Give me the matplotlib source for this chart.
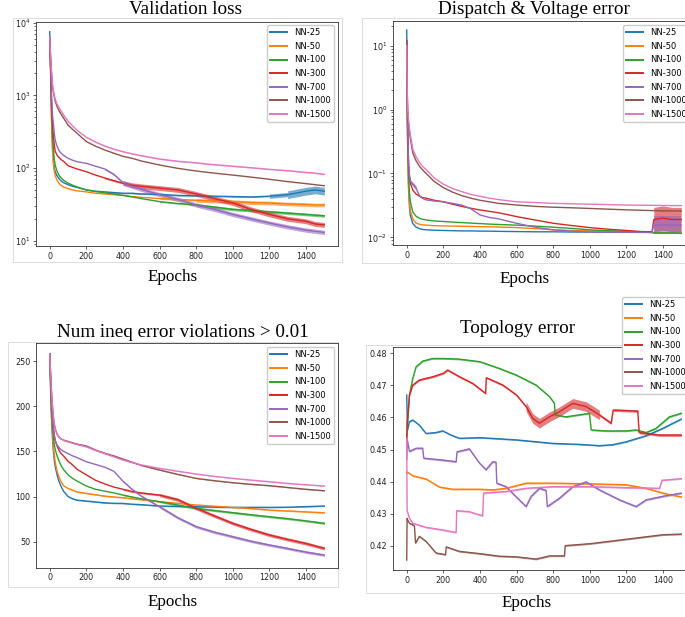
import numpy as np
import matplotlib
matplotlib.use('Agg')
import matplotlib.pyplot as plt
from matplotlib.patches import Rectangle

W, H = 685, 617

labels = ['NN-25', 'NN-50', 'NN-100', 'NN-300', 'NN-700', 'NN-1000', 'NN-1500']
colors = ['tab:blue', 'tab:orange', 'tab:green', 'tab:red', 'tab:purple', 'tab:brown', 'tab:pink']

# ---- validation loss (log) ----
loss_epochs = [0, 5, 10, 15, 20, 25, 30, 40, 50, 60, 75, 100, 125, 150, 200, 250, 300, 350,
               400, 450, 500, 600, 700, 800, 900, 1000, 1100, 1200, 1300, 1400, 1450, 1500]
loss = {
    'NN-25':   [7500, 2500, 500, 200, 130, 100, 88, 78, 72, 67, 63, 59, 56, 54, 50, 48, 47, 46,
                45, 45, 44, 43.5, 42, 41.5, 41, 40.5, 40, 41, 43, 48, 50, 48],
    'NN-50':   [6000, 2200, 450, 180, 115, 90, 78, 68, 62, 58, 55, 52, 50, 48.5, 47, 45, 44, 43,
                42, 40.5, 39.5, 38, 37, 36, 35, 34.5, 33.5, 33, 32, 31.5, 31, 31],
    'NN-100':  [6000, 2500, 700, 300, 180, 130, 110, 90, 80, 74, 68, 62, 58, 55, 50, 47.5, 45.5, 44,
                42, 40, 38, 34.5, 32.5, 31, 29, 27, 26, 25, 24, 23, 22.5, 22],
    'NN-300':  [6000, 2000, 700, 400, 280, 210, 170, 150, 140, 132, 124, 108, 102, 97, 89, 80, 73, 67,
                62, 58, 56, 53, 50, 44, 38, 33, 27, 23, 20, 18.5, 17, 16.5],
    'NN-700':  [6000, 2500, 1000, 550, 400, 300, 240, 200, 175, 162, 150, 136, 128, 122, 116, 106, 97, 82,
                63, 56, 51, 43, 37, 31, 27, 23, 20, 17.5, 15.5, 14, 13.5, 13],
    'NN-1000': [6300, 3200, 2000, 1350, 1100, 950, 830, 700, 620, 560, 490, 390, 340, 300, 231, 200, 177, 160,
                145, 136, 125, 110, 99, 91, 85, 80, 75, 70, 65, 61, 59, 57],
    'NN-1500': [6300, 3400, 2100, 1400, 1150, 1000, 880, 760, 680, 620, 540, 440, 380, 330, 265, 228, 201, 182,
                168, 157, 148, 133, 124, 118, 111, 106, 101, 96, 92, 87, 85, 82],
}
# noise band: (from epoch, to epoch, factor)
loss_noise = {
    'NN-25': [(300, 1200, 1.02), (1200, 1300, 1.07), (1300, 1500, 1.13)],
    'NN-50': [(600, 800, 1.03), (800, 1500, 1.06)],
    'NN-100': [(600, 800, 1.02), (800, 1500, 1.045)],
    'NN-300': [(300, 400, 1.03), (400, 1500, 1.08)],
    'NN-700': [(300, 400, 1.03), (400, 1500, 1.07)],
    'NN-1000': [],
    'NN-1500': [(200, 1500, 1.015)],
}

# ---- dispatch & voltage error (log) ----
dv_epochs = [0, 2, 5, 10, 15, 20, 33, 50, 69, 85, 106, 150, 200, 250, 300, 350, 400, 450, 500,
             600, 700, 800, 900, 1000, 1100, 1200, 1300, 1340, 1350, 1400, 1450, 1500]
dv = {
    'NN-25':   [17.6, 3, 0.3, 0.06, 0.03, 0.022, 0.0165, 0.0145, 0.0137, 0.0133, 0.0131, 0.0129, 0.0128,
                0.0127, 0.0126, 0.0126, 0.0125, 0.0125, 0.0124, 0.0123, 0.0122, 0.0122, 0.0121, 0.0121,
                0.012, 0.012, 0.0123, 0.0122, 0.0118, 0.0117, 0.0116, 0.0115],
    'NN-50':   [12, 2, 0.25, 0.06, 0.035, 0.026, 0.0195, 0.0168, 0.016, 0.0157, 0.0155, 0.0152, 0.0151,
                0.015, 0.0149, 0.0148, 0.0147, 0.0146, 0.0145, 0.0142, 0.0137, 0.0131, 0.0128, 0.0126,
                0.0124, 0.0122, 0.012, 0.0119, 0.0118, 0.0117, 0.0116, 0.0116],
    'NN-100':  [12, 2.5, 0.35, 0.09, 0.05, 0.036, 0.025, 0.0215, 0.0199, 0.0192, 0.0187, 0.018, 0.0177,
                0.0173, 0.017, 0.0167, 0.0164, 0.0161, 0.0159, 0.0155, 0.015, 0.0144, 0.0138, 0.0131,
                0.0127, 0.0124, 0.012, 0.0119, 0.0118, 0.0117, 0.0117, 0.0116],
    'NN-300':  [12, 3, 0.5, 0.15, 0.09, 0.07, 0.055, 0.048, 0.044, 0.042, 0.041, 0.038, 0.036,
                0.033, 0.0305, 0.0285, 0.0268, 0.0255, 0.0243, 0.0211, 0.0187, 0.0166, 0.0153, 0.0142,
                0.0134, 0.0128, 0.0122, 0.0121, 0.019, 0.02, 0.019, 0.019],
    'NN-700':  [12, 3, 0.6, 0.15, 0.09, 0.075, 0.068, 0.06, 0.045, 0.041, 0.0385, 0.037, 0.036,
                0.034, 0.032, 0.028, 0.0224, 0.0205, 0.0195, 0.0166, 0.0144, 0.0131, 0.0125, 0.0121,
                0.012, 0.012, 0.0119, 0.0119, 0.0155, 0.0155, 0.0155, 0.0155],
    'NN-1000': [12, 2.5, 0.9, 0.6, 0.45, 0.35, 0.21, 0.16, 0.13, 0.115, 0.1, 0.075, 0.06,
                0.051, 0.045, 0.041, 0.038, 0.036, 0.034, 0.032, 0.0305, 0.0296, 0.029, 0.0283,
                0.0276, 0.0269, 0.0264, 0.0262, 0.0262, 0.026, 0.0259, 0.0258],
    'NN-1500': [10, 2.5, 1.0, 0.7, 0.5, 0.4, 0.24, 0.185, 0.15, 0.13, 0.115, 0.085, 0.068,
                0.058, 0.052, 0.047, 0.044, 0.041, 0.039, 0.036, 0.035, 0.034, 0.0335, 0.033,
                0.0325, 0.032, 0.0318, 0.0317, 0.0316, 0.0315, 0.0314, 0.0314],
}
dv_noise = {
    'NN-25': [], 'NN-50': [], 'NN-100': [],
    'NN-300': [(1350, 1500, 1.55)],
    'NN-700': [(15, 50, 1.08), (1350, 1500, 1.38)],
    'NN-1000': [], 'NN-1500': [],
}

# ---- num ineq violations (linear) ----
ineq_epochs = [0, 5, 10, 15, 20, 25, 30, 40, 50, 60, 75, 100, 125, 150, 200, 250, 300, 350, 400,
               450, 500, 600, 700, 800, 900, 1000, 1100, 1200, 1300, 1400, 1500]
ineq = {
    'NN-25':   [258, 215, 185, 165, 150, 140, 133, 124, 117, 112, 106, 100, 97.5, 96, 95, 94, 93, 92.5,
                92.4, 91.5, 91, 89.5, 89, 88.7, 88.2, 88, 88, 88, 88.2, 88.8, 89.5],
    'NN-50':   [258, 220, 190, 170, 155, 146, 138, 128, 122, 117, 112, 109, 107, 105, 103.5, 102, 100.5,
                99.5, 98.7, 97.5, 96.5, 94.3, 92.5, 90.6, 89.3, 88, 86.7, 85, 84, 83, 82],
    'NN-100':  [258, 225, 195, 178, 166, 158, 152, 145, 140, 135, 130, 124, 120, 117, 111.6, 108, 106,
                104, 101.6, 99.5, 97.5, 94.3, 90.5, 86.9, 84.5, 82.1, 79.8, 77.6, 75.5, 73, 70.3],
    'NN-300':  [258, 230, 205, 188, 176, 168, 162, 156, 151.4, 148, 145, 139, 135, 130, 124, 118, 114,
                110.5, 108, 105.5, 104, 101.6, 96.5, 87, 78.5, 70.3, 63.5, 57.4, 52.5, 48, 42.6],
    'NN-700':  [258, 230, 205, 188, 175, 167, 162, 157, 154.5, 152, 150, 147.5, 145, 143, 138.5, 135.5,
                132.5, 128, 117, 108, 100.5, 88.7, 76.5, 66.6, 60.5, 55.5, 50.5, 46.3, 42.5, 38.5, 35.2],
    'NN-1000': [258, 235, 215, 200, 188, 180, 175, 169, 166, 164, 162.5, 161, 159.5, 158, 156, 151.5,
                148, 145, 141.5, 138, 134.5, 129.3, 124.5, 120.1, 117.5, 115.3, 113.5, 112, 110, 108, 106.4],
    'NN-1500': [258, 235, 215, 200, 188, 180, 175, 169, 166, 164, 162, 160.5, 159, 157.5, 155, 151,
                147.5, 144, 140.4, 137.5, 135, 131.2, 128, 124.9, 122.3, 120.1, 118.2, 116.4, 114.5, 113, 111.6],
}
ineq_noise = {
    'NN-25': [(100, 1500, 0.6)], 'NN-50': [(100, 1500, 0.6)],
    'NN-100': [(400, 600, 0.7), (600, 1500, 1.2)],
    'NN-300': [(400, 600, 1.0), (600, 1500, 1.8)],
    'NN-700': [(400, 600, 0.9), (600, 1500, 1.5)],
    'NN-1000': [(100, 1500, 0.4)], 'NN-1500': [(100, 1500, 0.4)],
}

# ---- topology error (linear), each run has its own epochs ----
topo = {
    'NN-25': ([0, 4, 15, 33, 69, 106, 160, 197, 242, 288, 400, 600, 800, 944, 1053, 1126, 1198, 1308, 1399, 1500],
              [0.467, 0.456, 0.4587, 0.4592, 0.4576, 0.455, 0.4553, 0.4558, 0.4545, 0.4535, 0.4537, 0.453,
               0.4519, 0.4516, 0.4512, 0.4515, 0.4524, 0.4543, 0.4566, 0.4595]),
    'NN-50': ([0, 3, 33, 106, 178, 251, 400, 470, 543, 652, 800, 1000, 1198, 1308, 1399, 1500],
              [0.4425, 0.443, 0.4418, 0.4408, 0.4383, 0.4376, 0.4376, 0.4374, 0.4379, 0.4395, 0.4395,
               0.4393, 0.439, 0.4379, 0.4364, 0.4352]),
    'NN-100': ([0, 15, 33, 51, 87, 142, 200, 288, 400, 506, 600, 707, 780, 807, 811, 870, 998, 1008,
                1089, 1198, 1253, 1308, 1362, 1435, 1500],
               [0.453, 0.467, 0.4722, 0.4758, 0.4776, 0.4784, 0.4784, 0.4782, 0.4774, 0.4753, 0.4732,
                0.4701, 0.4665, 0.4644, 0.4608, 0.4602, 0.4613, 0.4561, 0.4558, 0.4558, 0.4561, 0.4553,
                0.4566, 0.4602, 0.4613]),
    'NN-300': ([0, 2, 15, 33, 69, 142, 200, 224, 288, 361, 431, 435, 525, 600, 652, 689, 725, 780, 834,
                907, 980, 1053, 1117, 1128, 1262, 1270, 1380, 1500],
               [0.453, 0.458, 0.467, 0.4701, 0.4717, 0.4727, 0.4738, 0.4748, 0.4727, 0.4706, 0.4675,
                0.4724, 0.4701, 0.467, 0.4634, 0.4597, 0.4582, 0.4602, 0.4618, 0.4644, 0.4634, 0.4608,
                0.4582, 0.4623, 0.462, 0.4553, 0.4545, 0.4545]),
    'NN-700': ([0, 3, 15, 51, 87, 93, 197, 270, 275, 342, 397, 433, 470, 488, 492, 543, 579, 652, 680,
                725, 752, 762, 768, 834, 907, 980, 1053, 1162, 1253, 1308, 1399, 1500],
               [0.447, 0.453, 0.4494, 0.4504, 0.4504, 0.4473, 0.4467, 0.4462, 0.4493, 0.4502, 0.4458,
                0.4437, 0.4462, 0.446, 0.4395, 0.4384, 0.4363, 0.4322, 0.4354, 0.4379, 0.4374, 0.4372,
                0.4322, 0.4348, 0.4384, 0.4399, 0.4374, 0.4343, 0.4322, 0.4343, 0.4354, 0.4364]),
    'NN-1000': ([0, 2, 5, 15, 42, 48, 69, 106, 160, 212, 216, 288, 400, 506, 600, 707, 780, 862, 866,
                 1000, 1200, 1399, 1500],
                [0.4155, 0.4285, 0.428, 0.427, 0.4262, 0.4208, 0.4229, 0.4213, 0.4177, 0.4172, 0.4196,
                 0.4182, 0.4175, 0.4167, 0.4165, 0.4158, 0.4168, 0.4168, 0.42, 0.4206, 0.422, 0.4234, 0.4236]),
    'NN-1500': ([0, 2, 15, 33, 106, 197, 270, 273, 342, 415, 420, 543, 652, 800, 1000, 1198, 1381, 1395, 1500],
                [0.4535, 0.431, 0.4285, 0.427, 0.4257, 0.4249, 0.4241, 0.4309, 0.4306, 0.4293, 0.4364,
                 0.4369, 0.4379, 0.4384, 0.4384, 0.4381, 0.4379, 0.4404, 0.4409]),
}
topo_noise = {
    'NN-25': [(0, 1500, 0.0002)], 'NN-50': [(0, 1500, 0.00025)], 'NN-100': [(0, 1500, 0.00025)],
    'NN-300': [(0, 652, 0.0003), (652, 1053, 0.0015), (1053, 1500, 0.0004)],
    'NN-700': [(0, 1500, 0.0003)], 'NN-1000': [(0, 1500, 0.00025)], 'NN-1500': [(0, 1500, 0.00025)],
}


def px_axes(fig, left, top, right, bottom):
    return fig.add_axes([left / W, 1 - bottom / H, (right - left) / W, (bottom - top) / H])


def draw_series(ax, ep, vals, color, label, bands, log):
    ep = np.asarray(ep, dtype=float)
    vals = np.asarray(vals, dtype=float)
    ax.plot(ep, vals, color=color, lw=1.0, label=label)
    for a, b, w in bands:
        m = (ep >= a) & (ep <= b)
        if log:
            lo, hi = vals[m] / w, vals[m] * w
        else:
            lo, hi = vals[m] - w, vals[m] + w
        ax.fill_between(ep[m], lo, hi, color=color, lw=0, alpha=0.6)


def style(ax):
    ax.set_xlim(-75, 1575)
    ax.set_xticks(range(0, 1401, 200))
    ax.tick_params(labelsize=5.8, length=2.2, width=0.5, pad=1.8, colors='#222222')
    ax.tick_params(which='minor', length=1.3, width=0.4)
    for s in ax.spines.values():
        s.set_linewidth(0.6)
        s.set_color('#333333')


fig = plt.figure(figsize=(W / 100, H / 100), dpi=100)

# light screenshot borders, kept behind the axes and legends
for (x0, y0, x1, y1) in [(13, 18, 342, 262), (362, 18, 700, 263), (8, 342, 338, 587), (366, 345, 700, 593)]:
    fig.patches.append(Rectangle((x0 / W, 1 - y1 / H), (x1 - x0) / W, (y1 - y0) / H,
                                 transform=fig.transFigure, fill=False, ec='#dcdcdc', lw=0.7,
                                 zorder=-1))

ax1 = px_axes(fig, 36, 21.7, 338, 246)
ax2 = px_axes(fig, 393, 20.7, 695, 245)
ax3 = px_axes(fig, 36, 343.3, 338, 567.7)
ax4 = px_axes(fig, 393, 347.3, 695, 570)

for lab, col in zip(labels, colors):
    draw_series(ax1, loss_epochs, loss[lab], col, lab, loss_noise[lab], True)
    draw_series(ax2, dv_epochs, dv[lab], col, lab, dv_noise[lab], True)
    draw_series(ax3, ineq_epochs, ineq[lab], col, lab, ineq_noise[lab], False)
    draw_series(ax4, topo[lab][0], topo[lab][1], col, lab, topo_noise[lab], False)

ax1.set_yscale('log')
ax1.set_ylim(8.46, 1.03e4)
ax2.set_yscale('log')
ax2.set_ylim(0.00758, 24.6)
ax3.set_ylim(21.2, 269.6)
ax3.set_yticks([50, 100, 150, 200, 250])
ax4.set_ylim(0.4124, 0.4819)
ax4.set_yticks([0.42, 0.43, 0.44, 0.45, 0.46, 0.47, 0.48])
for ax in (ax1, ax2, ax3, ax4):
    style(ax)

legend_pos = [(ax1, 267, 25), (ax2, 623, 25), (ax3, 267, 347), (ax4, 622, 297)]
for ax, lx, ly in legend_pos:
    leg = ax.legend(loc='upper left', bbox_to_anchor=(lx / W, 1 - ly / H), bbox_transform=fig.transFigure,
                    fontsize=6, borderaxespad=0, framealpha=1, edgecolor='#cccccc', handlelength=2.0,
                    labelspacing=0.55)
    for ln in leg.get_lines():
        ln.set_linewidth(1.4)
ax4.get_legend().set_zorder(10)
ax4.set_zorder(2)

serif = ['Liberation Serif', 'DejaVu Serif']
titles = [('Validation loss', 186, 14.3), ('Dispatch & Voltage error', 534, 14),
          ('Num ineq error violations > 0.01', 183, 336.7), ('Topology error', 518, 333.3)]
for txt, x, y in titles:
    fig.text(x / W, 1 - y / H, txt, ha='center', va='baseline', fontsize=13.8, family=serif)
for x, y in [(173, 281), (525, 283.3), (173, 606), (527, 606.7)]:
    fig.text(x / W, 1 - y / H, 'Epochs', ha='center', va='baseline', fontsize=12.3, family=serif)

fig.savefig('out.png', dpi=100)
